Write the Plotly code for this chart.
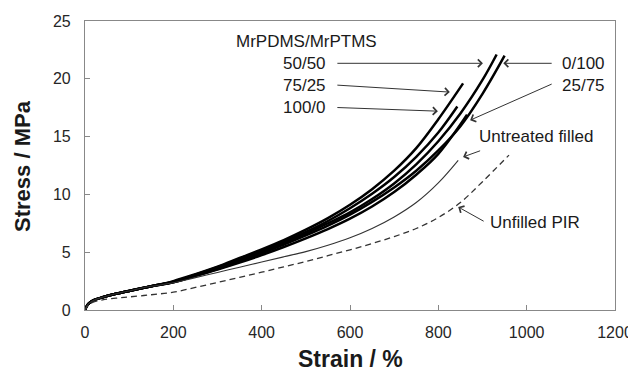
import plotly.graph_objects as go

# ---- data ----
early_strain = [0, 5, 10, 20, 40, 70, 100, 150]
early_stress = [0, 0.4, 0.6, 0.85, 1.1, 1.4, 1.65, 2.05]
mid_strain = [200, 250, 300, 350, 400, 450, 500, 550, 600, 650, 700, 750, 800]

strain_7525 = early_strain + mid_strain + [856]
stress_7525 = early_stress + [2.5, 3.1, 3.75, 4.5, 5.25, 6.05, 6.95, 7.95, 9.1, 10.45, 12.05, 14.0, 16.5, 19.6]

strain_1000 = early_strain + mid_strain + [843]
stress_1000 = early_stress + [2.45, 3.05, 3.7, 4.4, 5.15, 5.9, 6.75, 7.7, 8.8, 10.05, 11.5, 13.25, 15.35, 17.6]

strain_5050 = early_strain + mid_strain + [850, 900, 932]
stress_5050 = early_stress + [2.45, 3.0, 3.65, 4.3, 5.05, 5.8, 6.6, 7.5, 8.45, 9.6, 10.95, 12.6, 14.6, 17.0, 19.9, 22.1]

strain_0100 = early_strain + mid_strain + [850, 900, 950]
stress_0100 = early_stress + [2.4, 2.95, 3.55, 4.2, 4.9, 5.65, 6.45, 7.3, 8.25, 9.35, 10.6, 12.05, 13.8, 15.9, 18.7, 22.0]

strain_2575 = early_strain + mid_strain + [865]
stress_2575 = early_stress + [2.4, 2.95, 3.5, 4.1, 4.75, 5.45, 6.2, 7.0, 7.9, 8.95, 10.2, 11.7, 13.5, 16.9]

strain_untreated = early_strain + mid_strain + [845]
stress_untreated = early_stress + [2.35, 2.8, 3.25, 3.7, 4.15, 4.6, 5.05, 5.6, 6.25, 7.05, 8.05, 9.3, 11.0, 12.95]

strain_unfilled = [0, 5, 10, 20, 40, 70, 100, 150] + mid_strain + [850, 900, 960]
stress_unfilled = [0, 0.3, 0.5, 0.7, 0.88, 1.02, 1.13, 1.32, 1.54, 1.95, 2.38, 2.82, 3.27, 3.73,
                   4.2, 4.7, 5.2, 5.75, 6.35, 7.05, 8.0, 9.3, 11.1, 13.4]

x_ticks = [0, 200, 400, 600, 800, 1000, 1200]
y_ticks = [0, 5, 10, 15, 20, 25]

FONT = "Liberation Sans, Arial, sans-serif"

fig = go.Figure()

thick = [
    ("50/50", strain_5050, stress_5050),
    ("0/100", strain_0100, stress_0100),
    ("75/25", strain_7525, stress_7525),
    ("100/0", strain_1000, stress_1000),
    ("25/75", strain_2575, stress_2575),
]
for name, xs, ys in thick:
    fig.add_trace(go.Scatter(x=xs, y=ys, mode="lines", name=name,
                             line=dict(color="#000000", width=2.5, shape="spline", smoothing=1.0)))

fig.add_trace(go.Scatter(x=strain_untreated, y=stress_untreated, mode="lines", name="Untreated filled",
                         line=dict(color="#333333", width=1.1, shape="spline", smoothing=1.0)))
fig.add_trace(go.Scatter(x=strain_unfilled, y=stress_unfilled, mode="lines", name="Unfilled PIR",
                         line=dict(color="#333333", width=1.3, dash="6px,4px", shape="spline", smoothing=1.0)))

# ---- labels ----
ann = []
def label(text, x, y, xanchor):
    ann.append(dict(text=text, x=x, y=y, xref="x", yref="y", xanchor=xanchor, yanchor="middle",
                    showarrow=False, font=dict(family=FONT, size=17, color="#1a1a1a")))

label("MrPDMS/MrPTMS", 501, 23.2, "center")
label("50/50", 550, 21.34, "right")
label("75/25", 550, 19.46, "right")
label("100/0", 550, 17.52, "right")
label("0/100", 1075, 21.34, "left")
label("25/75", 1075, 19.46, "left")
label("Untreated filled", 887, 14.98, "left")
label("Unfilled PIR", 913, 7.61, "left")

def arrow(tx, ty, hx, hy):
    ann.append(dict(text="", x=hx, y=hy, ax=tx, ay=ty, xref="x", yref="y", axref="x", ayref="y",
                    showarrow=True, arrowhead=4, arrowsize=1.5, arrowwidth=1, arrowcolor="#333333"))

arrow(568, 21.34, 901, 21.34)
arrow(568, 19.46, 826, 18.85)
arrow(568, 17.52, 799, 17.2)
arrow(1060, 21.34, 947, 21.34)
arrow(1060, 19.6, 872, 16.42)
arrow(898, 13.82, 856, 13.24)
arrow(906, 7.61, 845, 8.91)

ann.append(dict(text="<b>Strain / %</b>", x=0.5, y=-0.17, xref="paper", yref="paper",
                xanchor="center", yanchor="middle", showarrow=False,
                font=dict(family=FONT, size=23, color="#1a1a1a")))
ann.append(dict(text="<b>Stress / MPa</b>", x=-0.118, y=0.5, xref="paper", yref="paper",
                xanchor="center", yanchor="middle", showarrow=False, textangle=-90,
                font=dict(family=FONT, size=22, color="#1a1a1a")))

# page body has an 8px margin: size and margins compensate for it
fig.update_layout(
    width=628, height=371,
    margin=dict(l=77, r=21, t=13, b=69, autoexpand=False),
    paper_bgcolor="white", plot_bgcolor="white",
    showlegend=False,
    annotations=ann,
    font=dict(family=FONT, size=16, color="#262626"),
)
fig.update_xaxes(range=[0, 1200], tickvals=x_ticks, ticks="inside", ticklen=5, tickcolor="#888888",
                 showline=True, linecolor="#888888", linewidth=1.2, mirror=True, showgrid=False,
                 zeroline=False, automargin=False, ticklabelstandoff=8,
                 tickfont=dict(family=FONT, size=16, color="#262626"))
fig.update_yaxes(range=[0, 25], tickvals=y_ticks, ticks="inside", ticklen=5, tickcolor="#888888",
                 showline=True, linecolor="#888888", linewidth=1.2, mirror=True, showgrid=False,
                 zeroline=False, automargin=False, ticklabelstandoff=10,
                 tickfont=dict(family=FONT, size=16, color="#262626"))

fig.write_html("out.html")
